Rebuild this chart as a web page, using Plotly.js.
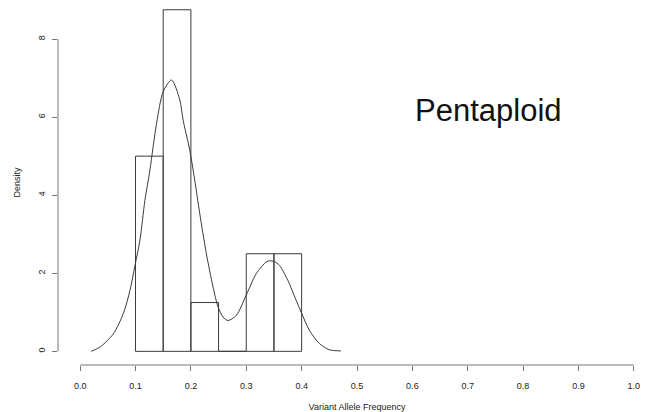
<!DOCTYPE html>
<html>
<head>
<meta charset="utf-8">
<script src="https://cdn.plot.ly/plotly-3.0.1.min.js"></script>
<style>
  html, body { margin: 0; padding: 0; background: #fff; }
  #chart { width: 656px; height: 412px; }
</style>
</head>
<body>
<div id="chart"></div>
<script>
// Histogram bins (left edges, width 0.05) and their densities
const binLeft = [0.10, 0.15, 0.20, 0.25, 0.30, 0.35];
const binWidth = 0.05;
const binDensity = [5.0, 8.75, 1.25, 0.0, 2.5, 2.5];

// Kernel density curve, sampled along the allele frequency axis
const kdeX = [0.020, 0.036, 0.060, 0.078, 0.090, 0.099, 0.108, 0.117, 0.126, 0.138,
              0.150, 0.165, 0.180, 0.186, 0.198, 0.207, 0.216, 0.228, 0.240, 0.249,
              0.258, 0.267, 0.282, 0.300, 0.318, 0.336, 0.342, 0.351, 0.360, 0.375,
              0.390, 0.399, 0.414, 0.432, 0.450, 0.471];
const kdeY = [0.00, 0.11, 0.45, 0.97, 1.56, 2.20, 2.85, 3.87, 4.64, 5.84,
              6.65, 6.95, 6.44, 5.92, 5.15, 4.38, 3.53, 2.50, 1.65, 1.14,
              0.88, 0.79, 0.92, 1.44, 1.99, 2.29, 2.32, 2.30, 2.20, 1.82,
              1.31, 1.01, 0.54, 0.20, 0.04, 0.01];

const xTicks = [0.0, 0.1, 0.2, 0.3, 0.4, 0.5, 0.6, 0.7, 0.8, 0.9, 1.0];
const yTicks = [0, 2, 4, 6, 8];

// Outline every bin as a closed rectangle so empty bins still show their base
const histX = [], histY = [];
binLeft.forEach((x0, i) => {
  const x1 = x0 + binWidth, h = binDensity[i];
  histX.push(x0, x0, x1, x1, x0, null);
  histY.push(0, h, h, 0, 0, null);
});

const font = { family: 'Liberation Sans, Arial, sans-serif', color: '#222' };

const traces = [
  {
    type: 'scatter', mode: 'lines', x: histX, y: histY,
    line: { color: '#3a3a3a', width: 1 }, hoverinfo: 'skip', connectgaps: false
  },
  {
    type: 'scatter', mode: 'lines', x: kdeX, y: kdeY,
    line: { color: '#3a3a3a', width: 1, shape: 'spline', smoothing: 0.8 },
    hoverinfo: 'skip'
  }
];

const layout = {
  width: 656, height: 412,
  margin: { l: 58, r: 0, t: 0, b: 47 },
  paper_bgcolor: '#fff', plot_bgcolor: '#fff',
  showlegend: false,
  font: Object.assign({ size: 9 }, font),
  xaxis: {
    range: [-0.04, 1.04], showgrid: false, zeroline: false, showline: false,
    tickvals: xTicks, ticktext: xTicks.map(v => v.toFixed(1)),
    ticks: 'outside', ticklen: 5, tickcolor: '#777', tickwidth: 1,
    ticklabelstandoff: 7,
    tickfont: Object.assign({ size: 9 }, font),
    title: { text: 'Variant Allele Frequency', font: Object.assign({ size: 9 }, font), standoff: 14 }
  },
  yaxis: {
    range: [-0.35, 9.0], showgrid: false, zeroline: false, showline: false,
    tickvals: yTicks, ticktext: yTicks.map(String), tickangle: -90,
    ticks: 'outside', ticklen: 5, tickcolor: '#777', tickwidth: 1,
    ticklabelstandoff: 3,
    tickfont: Object.assign({ size: 9 }, font),
    title: { text: 'Density', font: Object.assign({ size: 9 }, font), standoff: 15 }
  },
  shapes: [
    // axis lines span only from the first to the last tick
    { type: 'line', xref: 'x', yref: 'paper', x0: xTicks[0], x1: xTicks[xTicks.length - 1], y0: 0, y1: 0,
      line: { color: '#777', width: 1 } },
    { type: 'line', xref: 'paper', yref: 'y', x0: 0, x1: 0, y0: yTicks[0], y1: yTicks[yTicks.length - 1],
      line: { color: '#777', width: 1 } }
  ],
  annotations: [
    { x: 0.737, y: 6.17, xref: 'x', yref: 'y', text: 'Pentaploid', showarrow: false,
      xanchor: 'center', yanchor: 'middle',
      font: Object.assign({ size: 31 }, font, { color: '#111' }) }
  ]
};

Plotly.newPlot('chart', traces, layout, { staticPlot: true, displayModeBar: false });
</script>
</body>
</html>
